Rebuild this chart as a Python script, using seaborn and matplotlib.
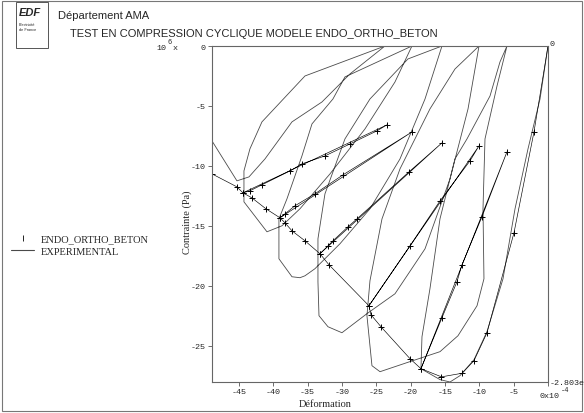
import matplotlib
matplotlib.use("Agg")
import matplotlib.pyplot as plt
import seaborn as sns
from matplotlib.lines import Line2D
from matplotlib.patches import Rectangle

# ——— Data (strain in 1e-4, stress in 1e6 Pa) ———
# experimental: initial loading, then 5 unload / reload loops, then softening
exp_x = [0, -1.16, -2.91, -4.80, -6.55, -8.88, -10.77, -12.81, -14.26, -15.72, -18.49,
         -18.34, -17.18, -15.72, -13.54, -11.79, -8.44, -6.99, -5.97,
         -7.42, -9.17, -9.46, -9.32, -10.33, -13.10, -15.72, -20.09, -24.45,
         -25.62, -26.35, -25.91, -24.16, -21.54, -17.18, -13.54, -10.04,
         -11.64, -14.26, -17.90, -22.27, -26.35, -29.99,
         -32.02, -33.33, -33.48, -33.48, -32.46, -29.55, -25.91, -20.38, -15.43,
         -17.90, -21.54, -25.91, -30.28, -33.92, -35.37, -36.10,
         -37.26, -39.16, -39.16, -37.99, -35.81, -34.35, -31.30, -29.55, -19.80,
         -22.27, -26.64, -31.73, -36.10, -38.72, -40.90,
         -44.25, -44.25, -43.38, -41.63, -35.37, -23.73,
         -28.82, -32.90, -37.26, -41.19, -43.52, -45.27, -48.9]
exp_y = [0, -4.42, -8.58, -13.58, -19.42, -23.83, -26.17, -27.50, -28.03, -27.83, -26.92,
         -24.25, -20.25, -14.42, -9.42, -7.75, -4.17, -1.33, 0,
         -3.33, -7.75, -13.58, -19.42, -21.67, -24.17, -25.50, -26.33, -27.17,
         -26.67, -22.50, -19.58, -14.42, -10.25, -5.25, -1.92, 0,
         -5.25, -11.08, -16.92, -20.67, -22.33, -23.92,
         -23.42, -22.50, -19.67, -16.08, -12.33, -7.75, -4.42, -1.08, 0,
         -4.42, -9.42, -13.58, -16.50, -18.58, -19.17, -19.33,
         -19.25, -17.75, -14.42, -12.75, -9.17, -6.50, -4.42, -2.58, 0,
         -3.00, -6.92, -10.67, -13.58, -15.00, -15.50,
         -13.00, -10.42, -8.58, -6.33, -2.50, 0,
         -2.33, -4.67, -6.33, -9.42, -10.92, -11.25, -7.92]

# ENDO_ORTHO_BETON model: envelope with 5 partial unloading branches
mod_x = [0, -2.04, -4.95, -8.88, -10.77, -12.50, -15.50, -18.49,
         -15.43, -13.25, -12.52, -9.61, -5.97, -18.49,
         -20.09, -24.31, -25.76, -26.06,
         -20.09, -15.72, -11.35, -10.04, -26.06,
         -31.88, -33.19,
         -32.02, -31.30, -29.11, -27.80, -20.23, -15.43, -33.19,
         -35.37, -37.26, -38.28, -39.01,
         -38.28, -36.83, -33.92, -29.84, -19.80, -39.01,
         -41.05, -43.09, -44.40,
         -43.38, -41.63, -37.55, -35.81, -32.46, -28.82, -24.89, -23.44, -44.40,
         -45.27, -48.9]
mod_y = [0, -7.17, -15.58, -23.92, -26.25, -27.30, -27.60, -26.92,
         -22.67, -19.67, -18.25, -14.25, -8.83, -26.92,
         -26.08, -23.42, -22.42, -21.67,
         -16.67, -12.92, -9.58, -8.33, -21.67,
         -18.25, -17.33,
         -16.67, -16.25, -15.08, -14.42, -10.50, -8.08, -17.33,
         -16.25, -15.42, -14.75, -14.33,
         -14.00, -13.33, -12.33, -10.75, -7.17, -14.33,
         -13.58, -12.67, -12.25,
         -12.08, -11.58, -10.42, -9.83, -9.17, -8.17, -7.08, -6.58, -12.25,
         -11.75, -10.67]

x_ticks = [-45, -40, -35, -30, -25, -20, -15, -10, -5, 0]
y_ticks = [0, -5, -10, -15, -20, -25]
x_lim = (-48.9, 0)
y_lim = (-28.03, 0)

# ——— Style ———
sns.set_style("white")
plt.rcParams["axes.unicode_minus"] = False
mono = "Liberation Mono"
serif = "Liberation Serif"
sans = "Liberation Sans"
W, H = 584, 414

def fx(px):
    return px / W

def fy(py):
    return 1 - py / H

fig = plt.figure(figsize=(5.84, 4.14), dpi=100)
ax = fig.add_axes([fx(212), fy(383), (548 - 212) / W, (383 - 47) / H])

sns.lineplot(x=exp_x, y=exp_y, sort=False, estimator=None,
             color="#4a4a4a", lw=0.6, ax=ax)
sns.lineplot(x=mod_x, y=mod_y, sort=False, estimator=None,
             color="black", lw=0.45, marker="+", markersize=4.5,
             markeredgecolor="black", markeredgewidth=0.7, ax=ax)

ax.set_xlim(*x_lim)
ax.set_ylim(*y_lim)
ax.set_xticks(x_ticks)
ax.set_xticklabels([str(v) for v in x_ticks[:-1]] + [""])
ax.set_yticks(y_ticks)
ax.set_yticklabels([str(v) for v in y_ticks])
ax.tick_params(axis="both", direction="out", length=3, width=0.6,
               labelsize=6, color="#555555", pad=1.5)
ax.tick_params(axis="both", which="both", bottom=True, left=True)
for lab in ax.get_xticklabels() + ax.get_yticklabels():
    lab.set_family(mono)
for sp in ax.spines.values():
    sp.set_color("#666666")
    sp.set_linewidth(0.8)
ax.set_xlabel("")
ax.set_ylabel("")

# axis annotations
fig.text(fx(187), fy(222), "Contrainte (Pa)", rotation=90, ha="center",
         va="center", fontsize=7.5, family=serif)
fig.text(fx(325), fy(405), "Déformation", ha="center", va="center",
         fontsize=7.5, family=serif)
fig.text(fx(156), fy(48), "10", ha="left", va="center", fontsize=6, family=mono)
fig.text(fx(167), fy(43), "6", ha="left", va="center", fontsize=5, family=mono)
fig.text(fx(173), fy(48), "x", ha="left", va="center", fontsize=6, family=mono)
fig.text(fx(550), fy(45), "0", ha="left", va="center", fontsize=6, family=mono)
fig.text(fx(550), fy(384), "-2.803e", ha="left", va="center", fontsize=6, family=mono)
fig.text(fx(539), fy(397), "0x10", ha="left", va="center", fontsize=6, family=mono)
fig.text(fx(561), fy(391), "-4", ha="left", va="center", fontsize=5, family=mono)

# header
fig.text(fx(58), fy(16), "Département AMA", ha="left", va="center",
         fontsize=8, family=sans)
fig.text(fx(70), fy(34), "TEST EN COMPRESSION CYCLIQUE MODELE ENDO_ORTHO_BETON",
         ha="left", va="center", fontsize=8, family=sans)
fig.text(fx(19), fy(13), "EDF", ha="left", va="center", fontsize=8,
         family=sans, weight="bold", style="italic")
fig.text(fx(19), fy(25), "Electricité", ha="left", va="center", fontsize=2.8,
         family=sans)
fig.text(fx(19), fy(30), "de France", ha="left", va="center", fontsize=2.8,
         family=sans)
fig.patches.append(Rectangle((fx(16), fy(49)), (48 - 16) / W, (49 - 3) / H,
                             transform=fig.transFigure, fill=False,
                             edgecolor="#555555", lw=0.7))
fig.patches.append(Rectangle((fx(2), fy(412)), 580 / W, 410 / H,
                             transform=fig.transFigure, fill=False,
                             edgecolor="#777777", lw=0.8))

# legend
handles = [Line2D([], [], color="black", marker="|", ls="none", markersize=4,
                  markeredgewidth=0.6),
           Line2D([], [], color="#4a4a4a", lw=0.8)]
fig.legend(handles, ["ENDO_ORTHO_BETON", "EXPERIMENTAL"], loc="upper left",
           bbox_to_anchor=(fx(6), fy(230)), frameon=False, handlelength=2.2,
           handletextpad=0.6, labelspacing=0.3, borderpad=0,
           prop={"family": serif, "size": 7.5})

fig.savefig("out.png", dpi=100)
plt.close(fig)
